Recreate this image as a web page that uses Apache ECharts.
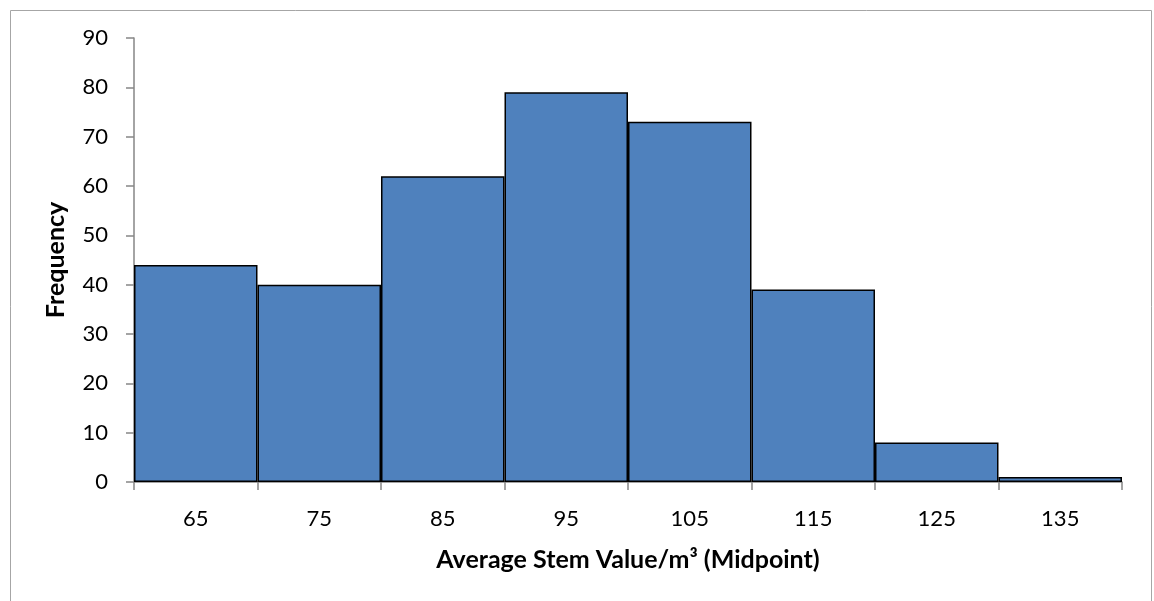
<!DOCTYPE html>
<html>
<head>
<meta charset="utf-8">
<script src="https://cdn.jsdelivr.net/npm/echarts@6/dist/echarts.min.js"></script>
<style>
  html, body { margin: 0; padding: 0; background: #fff; }
  #chart { width: 1154px; height: 601px; }
</style>
</head>
<body>
<div id="chart"></div>
<script>
// Histogram bins (midpoints) and their counts
const midpoints = ['65', '75', '85', '95', '105', '115', '125', '135'];
const frequency = [44, 40, 62, 79, 73, 39, 8, 1];
const yTicks = { min: 0, max: 90, interval: 10 };

const font = 'Lato';
const axisGrey = '#868686';

const chart = echarts.init(document.getElementById('chart'), null, { renderer: 'canvas' });
chart.setOption({
  animation: false,
  backgroundColor: '#ffffff',
  graphic: [{
    type: 'rect',
    left: 8, top: 8,
    shape: { width: 1141, height: 620 },
    style: { fill: 'none', stroke: '#a6a6a6', lineWidth: 1 },
    silent: true
  }],
  grid: { left: 134, right: 32, top: 38, bottom: 119 },
  xAxis: {
    type: 'category',
    data: midpoints,
    boundaryGap: true,
    name: 'Average Stem Value/m³ (Midpoint)',
    nameLocation: 'middle',
    nameGap: 65,
    nameTextStyle: { fontFamily: font, fontSize: 25, fontWeight: 'bold', color: '#000' },
    axisLine: { lineStyle: { color: axisGrey, width: 1.5 } },
    axisTick: { show: true, alignWithLabel: false, length: 8, lineStyle: { color: axisGrey, width: 1.5 } },
    axisLabel: { margin: 26, fontFamily: font, fontSize: 22, color: '#000' },
    splitLine: { show: false }
  },
  yAxis: {
    type: 'value',
    min: yTicks.min, max: yTicks.max, interval: yTicks.interval,
    name: 'Frequency',
    nameLocation: 'middle',
    nameGap: 66,
    nameRotate: 90,
    nameTextStyle: { fontFamily: font, fontSize: 25, fontWeight: 'bold', color: '#000' },
    axisLine: { show: true, lineStyle: { color: axisGrey, width: 1.5 } },
    axisTick: { show: true, length: 8, lineStyle: { color: axisGrey, width: 1.5 } },
    axisLabel: { margin: 26, fontFamily: font, fontSize: 22, color: '#000' },
    splitLine: { show: false }
  },
  series: [{
    type: 'bar',
    data: frequency,
    barCategoryGap: '0%',
    itemStyle: { color: '#4f81bd', borderColor: '#000', borderWidth: 1.5 }
  }]
});
</script>
</body>
</html>
